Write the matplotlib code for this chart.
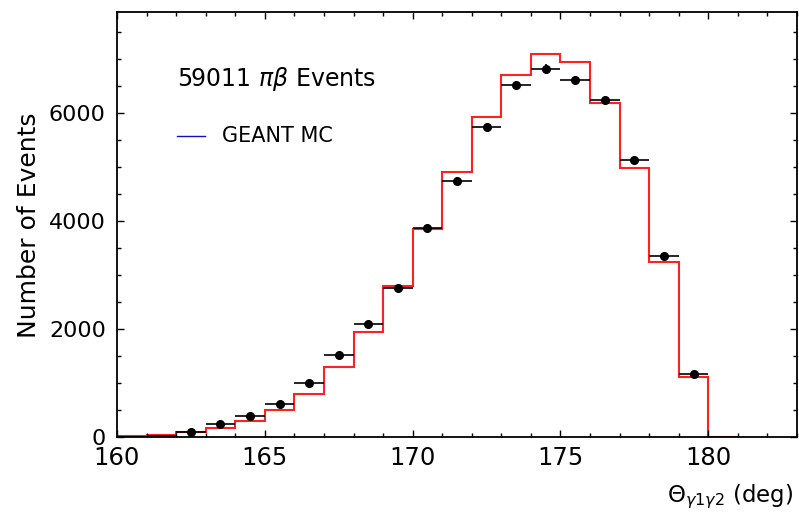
import numpy as np
import matplotlib
matplotlib.use("Agg")
import matplotlib.pyplot as plt

# data histogram (1 deg bins, centres 160.5 .. 179.5)
data_centers = [160.5, 161.5, 162.5, 163.5, 164.5, 165.5, 166.5, 167.5, 168.5, 169.5,
                170.5, 171.5, 172.5, 173.5, 174.5, 175.5, 176.5, 177.5, 178.5, 179.5]
data_counts = [5, 20, 93, 241, 389, 611, 1000, 1519, 2100, 2765,
               3870, 4747, 5752, 6525, 6827, 6612, 6247, 5136, 3352, 1172]

# GEANT MC histogram
mc_edges = [160, 161, 162, 163, 164, 165, 166, 167, 168, 169, 170,
            171, 172, 173, 174, 175, 176, 177, 178, 179, 180, 181]
mc_counts = [19, 37, 93, 178, 296, 500, 796, 1296, 1944, 2802,
             3858, 4920, 5926, 6715, 7093, 6945, 6186, 4987, 3246, 1111, 0]

plt.rcParams["font.family"] = ["DejaVu Sans"]
plt.rcParams["mathtext.fontset"] = "dejavusans"

fig = plt.figure(figsize=(7.99, 5.21), dpi=100)
ax = fig.add_axes([0.1464, 0.1607, 0.8511, 0.8157])

ax.stairs(mc_counts, mc_edges, color="#ff2020", linewidth=1.5, baseline=0)

x = np.array(data_centers)
y = np.array(data_counts)
ax.errorbar(x, y, xerr=0.5, yerr=np.sqrt(y), fmt="none",
            ecolor="black", elinewidth=1.2, capsize=0)
# tiny bins at the left edge show no marker in the original
big = y > 50
ax.plot(x[big], y[big], "o", color="black", markersize=5.5)

ax.set_xlim(160, 183)
ax.set_ylim(0, 7870)
ax.set_xticks([160, 165, 170, 175, 180])
ax.set_xticks(np.arange(160, 184, 1), minor=True)
ax.set_yticks([0, 2000, 4000, 6000])
ax.set_yticks(np.arange(0, 7870, 500), minor=True)

ax.tick_params(which="both", direction="in", top=True, right=True, width=1)
ax.tick_params(which="major", length=5)
ax.tick_params(which="minor", length=3)
ax.tick_params(axis="x", labelsize=17.5, pad=6)
ax.tick_params(axis="y", labelsize=16, pad=8)
for s in ax.spines.values():
    s.set_linewidth(1.3)

ax.set_ylabel("Number of Events", fontsize=18, labelpad=6)
ax.text(0.995, -0.14, r"$\Theta_{\gamma 1 \gamma 2}$ (deg)", transform=ax.transAxes,
        ha="right", va="center", fontsize=16.5)

# legend drawn by hand like the original
ax.text(0.088, 0.842, r"59011 $\pi\beta$ Events", transform=ax.transAxes,
        ha="left", va="center", fontsize=17)
ax.plot([0.088, 0.13], [0.71, 0.71], transform=ax.transAxes, color="#1010c0", linewidth=1)
ax.text(0.154, 0.71, "GEANT MC", transform=ax.transAxes,
        ha="left", va="center", fontsize=15)

fig.savefig("out.png", dpi=100)
